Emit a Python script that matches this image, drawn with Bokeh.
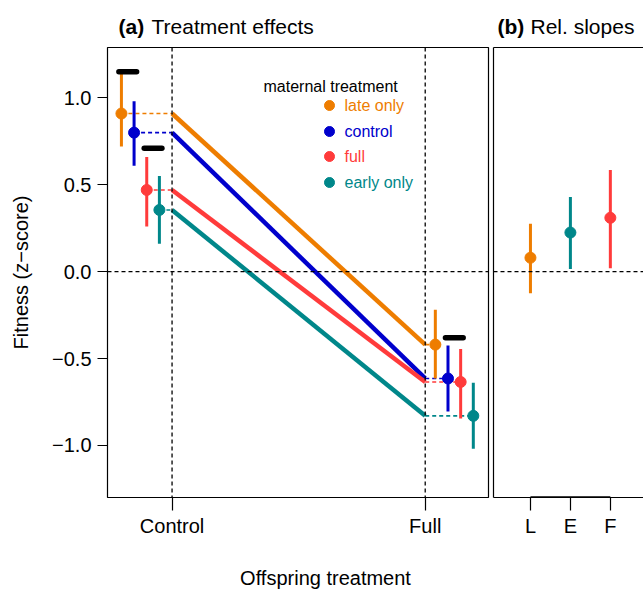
import math
from bokeh.plotting import figure
from bokeh.models import Range1d, Label, FixedTicker, LinearAxis, Span
from bokeh.layouts import row, column
from bokeh.embed import file_html
from bokeh.resources import INLINE

# ---------------- data ----------------
maternal = ["late only", "control", "full", "early only"]
mat_colors = ["#EE7D00", "#0000CC", "#FF3B3B", "#00878A"]
offspring = ["Control", "Full"]

ctrl_mean = [0.91, 0.80, 0.47, 0.355]
ctrl_lo = [0.72, 0.61, 0.26, 0.16]
ctrl_hi = [1.14, 0.98, 0.66, 0.55]

full_mean = [-0.42, -0.615, -0.635, -0.83]
full_lo = [-0.615, -0.805, -0.845, -1.02]
full_hi = [-0.22, -0.425, -0.445, -0.64]

# significance bars: offspring treatment, pair of maternal groups, height
sig_treat = ["Control", "Control", "Full"]
sig_pair = [("late only", "control"), ("full", "early only"), ("control", "full")]
sig_y = [1.15, 0.71, -0.38]

slope_labels = ["L", "E", "F"]
slope_groups = ["late only", "early only", "full"]
slope_mean = [0.08, 0.225, 0.31]
slope_lo = [-0.125, 0.015, 0.02]
slope_hi = [0.275, 0.43, 0.585]

y_ticks = [-1.0, -0.5, 0.0, 0.5, 1.0]

# ---------------- layout constants (page pixels) ----------------
FONT = "Liberation Sans"
TOTAL_W, TOTAL_H = 643, 589
TITLE_H = 40
BOTTOM_H = 39
MID_H = TOTAL_H - TITLE_H - BOTTOM_H
FL, FR, FT, FB = 107, 488, 47, 497   # frame of panel a
W_A = 490
W_B = TOTAL_W - W_A
off_ctrl = [-0.2, -0.15, -0.1, -0.05]
off_full = [0.04, 0.09, 0.14, 0.19]

YR = (-1.30, 1.29)
XR_A = (0.745, 2.25)
XR_B = (0.075, 3.83)
dash = "4 3"


def strip(width, height):
    f = figure(width=width, height=height, output_backend="svg", toolbar_location=None,
               x_range=Range1d(0, width), y_range=Range1d(height, 0),
               min_border=0)
    f.axis.visible = False
    f.grid.visible = False
    f.outline_line_color = None
    return f


def lab(p, x, y, text, size, color="black", bold=False, align="left",
        baseline="alphabetic"):
    p.add_layout(Label(x=x, y=y, text=text, text_font=FONT,
                       text_font_size=f"{size}px", text_color=color,
                       text_font_style="bold" if bold else "normal",
                       text_align=align, text_baseline=baseline))


# ---------------- title strip ----------------
pt = strip(TOTAL_W, TITLE_H)
lab(pt, 118, 26, "(a)", 21, bold=True)
lab(pt, 151, 26, "Treatment effects", 21)
lab(pt, 497, 26, "(b)", 21, bold=True)
lab(pt, 530, 26, "Rel. slopes", 21)

# ---------------- bottom strip ----------------
pbot = strip(TOTAL_W, BOTTOM_H)
lab(pbot, 325, 27, "Offspring treatment", 20, align="center", baseline="middle")

# ---------------- panel a ----------------
pa = figure(width=W_A, height=MID_H, output_backend="svg", toolbar_location=None,
            x_range=Range1d(*XR_A), y_range=Range1d(*YR))
pa.grid.visible = False
pa.min_border_left = FL
pa.min_border_right = W_A - FR
pa.min_border_top = FT - TITLE_H
pa.min_border_bottom = (TITLE_H + MID_H) - FB
pa.outline_line_color = "black"
pa.outline_line_width = 1.2
pa.outline_line_alpha = 1.0

pa.xaxis.ticker = FixedTicker(ticks=[1, 2])
pa.xaxis.major_label_overrides = {1: offspring[0], 2: offspring[1]}
pa.yaxis.ticker = FixedTicker(ticks=y_ticks)
pa.yaxis.major_label_overrides = {t: (f"{t:.1f}".replace("-", "\u2212")) for t in y_ticks}
for ax in (pa.xaxis[0], pa.yaxis[0]):
    ax.axis_line_color = None
    ax.major_tick_in = 0
    ax.major_tick_line_color = "black"
    ax.major_tick_line_width = 1.2
    ax.minor_tick_line_color = None
    ax.major_label_text_font = FONT
    ax.major_label_text_font_size = "20px"
    ax.major_label_text_color = "black"
pa.xaxis.major_tick_out = 13
pa.xaxis.major_label_standoff = 4
pa.yaxis.major_tick_out = 10
pa.yaxis.major_label_standoff = 6
pa.yaxis.axis_label = "Fitness (z\u2212score)"
pa.yaxis.axis_label_text_font = FONT
pa.yaxis.axis_label_text_font_size = "20px"
pa.yaxis.axis_label_text_font_style = "normal"
pa.yaxis.axis_label_text_color = "black"
pa.yaxis.axis_label_standoff = 17

for loc, dim in ((1, "height"), (2, "height"), (0, "width")):
    pa.add_layout(Span(location=loc, dimension=dim, line_color="black",
                       line_dash=dash, line_width=1.3))

xc = [1 + o for o in off_ctrl]
xf = [2 + o for o in off_full]

# dashed connectors
for i in range(4):
    pa.segment(x0=[xc[i]], y0=[ctrl_mean[i]], x1=[1], y1=[ctrl_mean[i]],
               line_color=mat_colors[i], line_width=1.6, line_dash=dash)
    pa.segment(x0=[2], y0=[full_mean[i]], x1=[xf[i]], y1=[full_mean[i]],
               line_color=mat_colors[i], line_width=1.6, line_dash=dash)
# reaction norms
pa.segment(x0=[1] * 4, y0=ctrl_mean, x1=[2] * 4, y1=full_mean,
           line_color=mat_colors, line_width=4.5)
# CIs and points
pa.segment(x0=xc, y0=ctrl_lo, x1=xc, y1=ctrl_hi, line_color=mat_colors, line_width=3)
pa.segment(x0=xf, y0=full_lo, x1=xf, y1=full_hi, line_color=mat_colors, line_width=3)
pa.scatter(xc, ctrl_mean, size=11, fill_color=mat_colors, line_color=mat_colors)
pa.scatter(xf, full_mean, size=11, fill_color=mat_colors, line_color=mat_colors)

# significance bars
for t, (g1, g2), yv in zip(sig_treat, sig_pair, sig_y):
    base = 1 + offspring.index(t)
    offs = off_ctrl if t == "Control" else off_full
    xa = base + offs[maternal.index(g1)] - 0.01
    xb = base + offs[maternal.index(g2)] + 0.01
    pa.segment(x0=[xa], y0=[yv], x1=[xb], y1=[yv], line_color="black",
               line_width=5.5, line_cap="round")


# legend (positioned in page pixels, converted to data coordinates)
def data_x(px):
    return XR_A[0] + (px - FL) / (FR - FL) * (XR_A[1] - XR_A[0])


def data_y(py):
    return YR[1] - (py - FT) / (FB - FT) * (YR[1] - YR[0])


lab(pa, data_x(263), data_y(86), "maternal treatment", 16)
leg_y = [105, 131, 156, 182]
pa.scatter([data_x(329)] * 4, [data_y(v) for v in leg_y], size=10,
           fill_color=mat_colors, line_color=mat_colors)
for name, c, ly in zip(maternal, mat_colors, leg_y):
    lab(pa, data_x(344), data_y(ly), name, 16, color=c, baseline="middle")

# ---------------- panel b ----------------
pb = figure(width=W_B, height=MID_H, output_backend="svg", toolbar_location=None,
            x_range=Range1d(*XR_B), y_range=Range1d(*YR))
pb.grid.visible = False
pb.min_border_left = 3
pb.min_border_right = 0
pb.min_border_top = FT - TITLE_H
pb.min_border_bottom = (TITLE_H + MID_H) - FB
pb.outline_line_color = None

pb.xaxis.ticker = FixedTicker(ticks=[1, 2, 3])
pb.xaxis.major_label_overrides = {i + 1: s for i, s in enumerate(slope_labels)}
pb.xaxis.major_tick_in = 0
pb.xaxis.major_tick_out = 13
pb.xaxis.major_label_standoff = 4
pb.xaxis.minor_tick_line_color = None
pb.xaxis.major_label_text_font = FONT
pb.xaxis.major_label_text_font_size = "20px"
pb.xaxis.major_label_text_color = "black"
pb.xaxis.axis_line_width = 1.2
pb.xaxis.major_tick_line_width = 1.2


def bare(ax):
    ax.ticker = FixedTicker(ticks=[])
    ax.major_tick_out = 0
    ax.major_tick_in = 0
    ax.minor_tick_out = 0
    ax.minor_tick_in = 0
    ax.major_label_standoff = 0
    ax.major_label_text_font_size = "0px"
    ax.axis_line_color = "black"
    ax.axis_line_width = 1.2


bare(pb.yaxis[0])
top = LinearAxis()
bare(top)
pb.add_layout(top, "above")

pb.add_layout(Span(location=0, dimension="width", line_color="black",
                   line_dash=dash, line_width=1.3))
bx = [1, 2, 3]
bcol = [mat_colors[maternal.index(g)] for g in slope_groups]
# R-style axis segment spanning the tick range along the frame bottom
pb.segment(x0=[bx[0]], y0=[YR[0]], x1=[bx[-1]], y1=[YR[0]], line_color="black",
           line_width=2.5)
pb.segment(x0=bx, y0=slope_lo, x1=bx, y1=slope_hi, line_color=bcol, line_width=3)
pb.scatter(bx, slope_mean, size=11, fill_color=bcol, line_color=bcol)

layout = column(pt, row(pa, pb), pbot)
open("out.html", "w").write(file_html(layout, INLINE))
